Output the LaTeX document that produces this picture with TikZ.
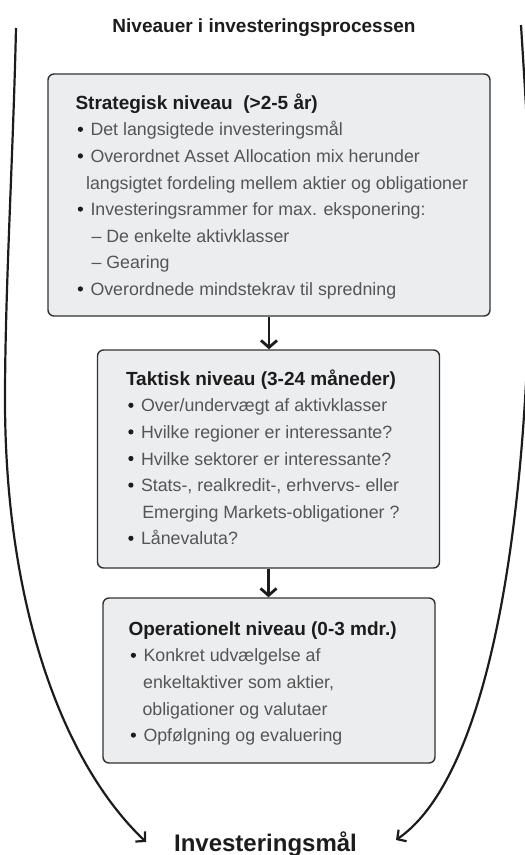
\documentclass[tikz,border=0pt]{standalone}
\usepackage{fontspec}
\setmainfont{Liberation Sans}
\usetikzlibrary{arrows.meta}
\definecolor{boxfill}{RGB}{236,237,239}
\definecolor{boxline}{RGB}{50,50,50}
\definecolor{bodytext}{RGB}{85,85,85}
\definecolor{headtext}{RGB}{28,28,28}
\newcommand{\bl}{\makebox[15pt][l]{\hspace{2.3pt}\tikz[baseline=0pt]\fill[headtext] (2.6pt,6.6pt) circle (2.6pt);}}
\newcommand{\hd}[1]{{\fontsize{19}{26.6}\selectfont\bfseries\color{headtext}#1}}
\tikzset{
  levelbox/.style={draw=boxline, line width=1.4pt, fill=boxfill, rounded corners=6pt, inner sep=0pt},
  bodytxt/.style={inner sep=0pt, anchor=base west, text=bodytext, font=\fontsize{17.8}{26.6}\selectfont},
  conn/.style={line width=2.8pt, draw=headtext, -{Straight Barb[length=7pt,width=16pt]}},
  bigcurve/.style={line width=2.2pt, draw=headtext, -{Straight Barb[length=6.5pt,width=14pt]}}
}
\begin{document}
\begin{tikzpicture}[x=1pt,y=-1pt]
\useasboundingbox (0,0) rectangle (525,855);
% title
\node[inner sep=0pt, anchor=base, text=headtext, font=\fontsize{19}{22}\selectfont\bfseries] (title) at (264,32.3) {Niveauer i investeringsprocessen};
% boxes
\node[levelbox, minimum width=442pt, minimum height=242pt] (b1) at (269,195) {};
\node[levelbox, minimum width=342pt, minimum height=218pt] (b2) at (268.5,459) {};
\node[levelbox, minimum width=332pt, minimum height=165pt] (b3) at (269,680.5) {};
% texts
\node[bodytxt] (t1) at ([xshift=28pt,yshift=-36pt]b1.north west) {\begin{tabular}[t]{@{}l@{}}
\hd{Strategisk niveau\ \ (>2-5 år)}\\
\bl Det langsigtede investeringsmål\\
\bl Overordnet Asset Allocation mix herunder\\
\hspace*{10.6pt}langsigtet fordeling mellem aktier og obligationer\\
\bl Investeringsrammer for max. eksponering:\\
\hspace*{16pt}– De enkelte aktivklasser\\
\hspace*{16pt}– Gearing\\
\bl Overordnede mindstekrav til spredning
\end{tabular}};
\node[bodytxt] (t2) at ([xshift=29pt,yshift=-36pt]b2.north west) {\begin{tabular}[t]{@{}l@{}}
\hd{Taktisk niveau (3-24 måneder)}\\
\bl Over/undervægt af aktivklasser\\
\bl Hvilke regioner er interessante?\\
\bl Hvilke sektorer er interessante?\\
\bl Stats-, realkredit-, erhvervs- eller\\
\hspace*{16.3pt}Emerging Markets-obligationer ?\\
\bl Lånevaluta?
\end{tabular}};
\node[bodytxt] (t3) at ([xshift=26pt,yshift=-38pt]b3.north west) {\begin{tabular}[t]{@{}l@{}}
\hd{Operationelt niveau (0-3 mdr.)}\\
\bl Konkret udvælgelse af\\
\hspace*{14.7pt}enkeltaktiver som aktier,\\
\hspace*{14pt}obligationer og valutaer\\
\bl Opfølgning og evaluering
\end{tabular}};
% connectors between levels
\draw[conn] (b1.south) -- (b1.south |- b2.north);
\draw[conn] (b2.south) -- (b2.south |- b3.north);
% goal
\node[inner sep=0pt, anchor=base, text=headtext, font=\fontsize{24}{28}\selectfont\bfseries] (goal) at (265.5,851) {Investeringsmål};
% big curves
\coordinate (ls) at (16,28);
\coordinate (lm) at (5,400);
\coordinate (le) at (146,842);
\coordinate (rs) at (521,25);
\coordinate (rm) at (530,230);
\coordinate (re) at (396,840);
\draw[bigcurve] (ls) .. controls (13,160) and (5,290) .. (lm) .. controls (5,600) and (60,760) .. (le);
\draw[bigcurve] (rs) .. controls (525,90) and (530,160) .. (rm) .. controls (530,520) and (490,775) .. (re);
\end{tikzpicture}
\end{document}
